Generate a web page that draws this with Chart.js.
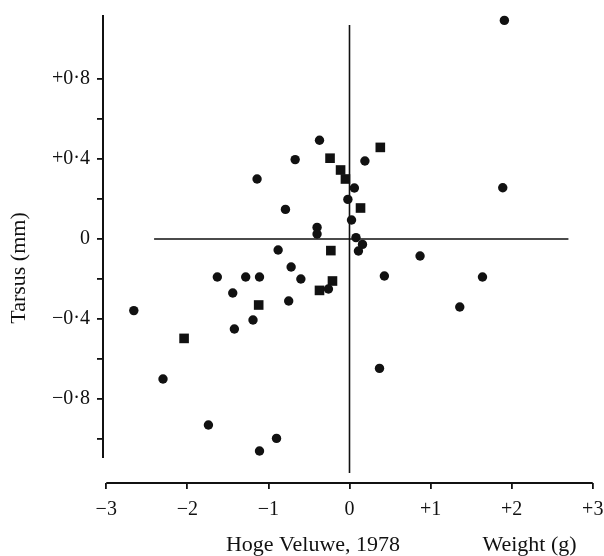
<!DOCTYPE html>
<html lang="en">
<head>
<meta charset="UTF-8" />
<title>Hoge Veluwe, 1978 - Tarsus vs Weight</title>
<script src="https://cdn.jsdelivr.net/npm/chart.js@4"></script>
<style>
  html, body { margin: 0; padding: 0; background: #fff; }
  .wrap { width: 604px; height: 556px; }
</style>
</head>
<body>
<div class="wrap"><canvas id="plot"></canvas></div>
<script>
  // weight deviation (g) / tarsus deviation (mm)
  const circleX = [1.91, 1.89, 0.87, 0.43, 1.64, 1.36, 0.37, -0.37, -0.67, -1.14,
                   0.06, -0.02, 0.19, -0.79, 0.025, -0.40, -0.40, 0.08, 0.16, 0.11,
                   -0.88, -0.72, -1.63, -1.28, -1.11, -0.60, -0.26, -1.44, -0.75, -1.19,
                   -1.42, -2.66, -2.30, -1.74, -1.11, -0.90];
  const circleY = [1.093, 0.256, -0.085, -0.185, -0.19, -0.34, -0.647, 0.494, 0.397, 0.30,
                   0.255, 0.198, 0.39, 0.148, 0.095, 0.058, 0.025, 0.007, -0.027, -0.06,
                   -0.055, -0.14, -0.19, -0.19, -0.19, -0.20, -0.25, -0.27, -0.31, -0.405,
                   -0.45, -0.358, -0.70, -0.93, -1.06, -0.997];
  const squareX = [-0.24, -0.11, -0.05, 0.38, 0.136, -0.23, -0.21, -0.37, -1.12, -2.04];
  const squareY = [0.404, 0.345, 0.30, 0.458, 0.155, -0.058, -0.21, -0.257, -0.33, -0.497];

  const xTicks = [-3, -2, -1, 0, 1, 2, 3];
  const xTickLabels = ['\u22123', '\u22122', '\u22121', '0', '+1', '+2', '+3'];
  const yTicks = [-1.0, -0.8, -0.6, -0.4, -0.2, 0, 0.2, 0.4, 0.6, 0.8];
  const yTickLabels = ['', '\u22120\u00b78', '', '\u22120\u00b74', '', '0', '', '+0\u00b74', '', '+0\u00b78'];

  const toPoints = (xs, ys) => xs.map((x, i) => ({ x: x, y: ys[i] }));
  const serif = '"Liberation Serif", "Times New Roman", serif';
  const ink = '#111';

  // axis lines, zero cross and titles are drawn by hand
  const axesAndTitles = {
    id: 'axesAndTitles',
    beforeDatasetsDraw(chart) {
      const { ctx, scales: { x, y } } = chart;
      ctx.save();
      ctx.strokeStyle = ink;
      ctx.lineWidth = 2;
      ctx.beginPath();
      ctx.moveTo(x.left, y.getPixelForValue(1.12));
      ctx.lineTo(x.left, y.getPixelForValue(-1.095));
      ctx.moveTo(x.getPixelForValue(-3), y.bottom);
      ctx.lineTo(x.getPixelForValue(3), y.bottom);
      ctx.stroke();

      ctx.lineWidth = 1.6;
      ctx.beginPath();
      ctx.moveTo(x.getPixelForValue(-2.41), y.getPixelForValue(0));
      ctx.lineTo(x.getPixelForValue(2.70), y.getPixelForValue(0));
      ctx.moveTo(x.getPixelForValue(0), y.getPixelForValue(1.07));
      ctx.lineTo(x.getPixelForValue(0), y.getPixelForValue(-1.17));
      ctx.stroke();
      ctx.restore();
    },
    afterDraw(chart) {
      const { ctx, scales: { x, y } } = chart;
      ctx.save();
      ctx.fillStyle = ink;
      ctx.font = '22px ' + serif;
      ctx.textAlign = 'center';
      ctx.textBaseline = 'alphabetic';
      ctx.fillText('Hoge Veluwe, 1978', x.getPixelForValue(-0.45), 551);
      ctx.fillText('Weight (g)', x.getPixelForValue(2.22), 551);

      ctx.translate(25, y.getPixelForValue(-0.145));
      ctx.rotate(-Math.PI / 2);
      ctx.fillText('Tarsus (mm)', 0, 0);
      ctx.restore();
    }
  };

  new Chart(document.getElementById('plot'), {
    type: 'scatter',
    data: {
      datasets: [
        {
          label: 'circles',
          data: toPoints(circleX, circleY),
          pointStyle: 'circle',
          pointRadius: 4.7,
          backgroundColor: ink,
          borderWidth: 0
        },
        {
          label: 'squares',
          data: toPoints(squareX, squareY),
          pointStyle: 'rect',
          pointRadius: 6.8,
          backgroundColor: ink,
          borderWidth: 0
        }
      ]
    },
    options: {
      responsive: true,
      maintainAspectRatio: false,
      animation: false,
      layout: { padding: { top: 15, right: 8, bottom: 0, left: 0 } },
      plugins: { legend: { display: false }, tooltip: { enabled: false } },
      scales: {
        x: {
          type: 'linear',
          min: -3.04,
          max: 3.04,
          afterBuildTicks: (s) => { s.ticks = xTicks.map(v => ({ value: v })); },
          afterFit: (s) => { s.height = 73; s.paddingLeft = 0; s.paddingRight = 0; },
          border: { display: false },
          grid: { drawOnChartArea: false, drawTicks: true, tickLength: 6, color: ink, lineWidth: 1.8 },
          ticks: {
            autoSkip: false,
            maxRotation: 0,
            padding: 9,
            color: ink,
            font: { family: serif, size: 20 },
            callback: (v, i) => xTickLabels[i]
          }
        },
        y: {
          type: 'linear',
          min: -1.22,
          max: 1.12,
          afterBuildTicks: (s) => { s.ticks = yTicks.map(v => ({ value: v })); },
          afterFit: (s) => { s.width = 103; s.paddingTop = 0; s.paddingBottom = 0; },
          border: { display: false },
          grid: { drawOnChartArea: false, drawTicks: true, tickLength: 6, color: ink, lineWidth: 1.8 },
          ticks: {
            autoSkip: false,
            padding: 7,
            color: ink,
            font: { family: serif, size: 20 },
            callback: (v, i) => yTickLabels[i]
          }
        }
      }
    },
    plugins: [axesAndTitles]
  });
</script>
</body>
</html>
